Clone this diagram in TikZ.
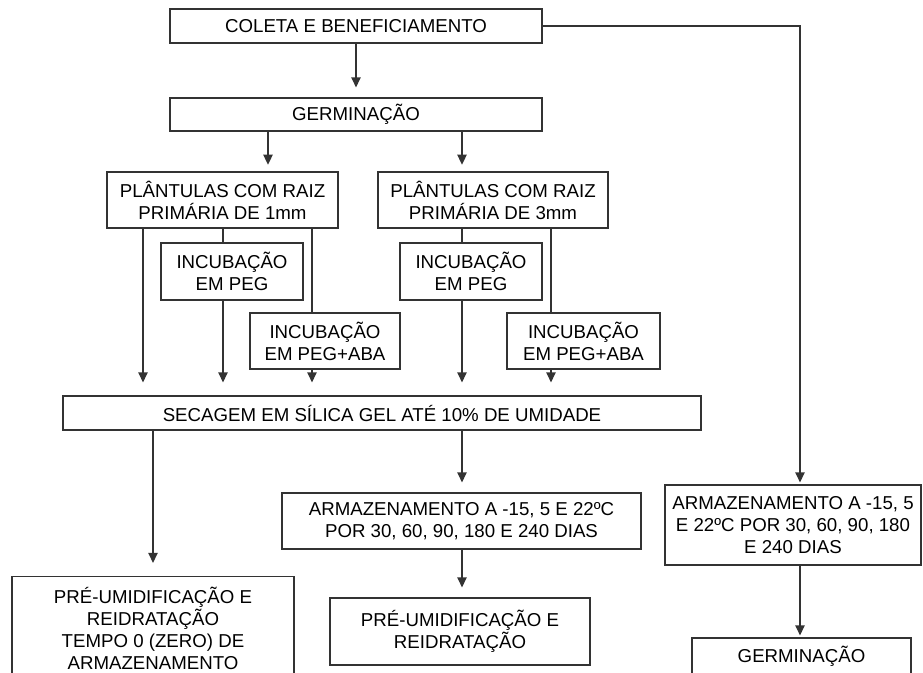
\documentclass[tikz,border=0pt]{standalone}
\usepackage{fontspec}
\setmainfont{Liberation Sans}
\usetikzlibrary{arrows.meta, positioning, calc}

\begin{document}
\begin{tikzpicture}[x=0.75pt, y=-0.75pt,
  caixa/.style={draw=black!80, line width=0.9pt, align=center, inner sep=0pt,
    font=\fontsize{14}{16.5}\selectfont},
  seta/.style={draw=black!80, line width=0.9pt, -{Triangle[length=7.5pt,width=7pt]}, shorten >=7.5pt},
  linha/.style={draw=black!80, line width=0.9pt}]

\useasboundingbox (0,0) rectangle (923,672);
\clip (0,0) rectangle (923,672);

% ---------------- Column positions ----------------
\foreach \nome/\xpos in {ca/143, cb/223, cc/312, cd/462, ce/551, cf/268, cg/153, ch/800}
  \coordinate (\nome) at (\xpos,26);

% ---------------- Top ----------------
\node[caixa, minimum width=279pt, minimum height=25.5pt] (coleta) at (356,26) {COLETA E BENEFICIAMENTO};
\node[caixa, minimum width=279pt, minimum height=24.75pt] (germ) at (356,114.5) {GERMINAÇÃO};

% ---------------- Seedlings ----------------
\node[caixa, minimum width=173.25pt, minimum height=42pt] (pl1) at (222.5,200) {PLÂNTULAS COM RAIZ\\PRIMÁRIA DE 1mm};
\node[caixa, minimum width=172.5pt, minimum height=42pt] (pl3) at (493,200) {PLÂNTULAS COM RAIZ\\PRIMÁRIA DE 3mm};
\node[caixa, minimum width=106.5pt, minimum height=42.75pt] (inc1) at (232,271.5) {INCUBAÇÃO\\EM PEG};
\node[caixa, minimum width=112.5pt, minimum height=42pt] (aba1) at (325,341) {INCUBAÇÃO\\EM PEG+ABA};
\node[caixa, minimum width=106.5pt, minimum height=42.75pt] (inc3) at (471,271.5) {INCUBAÇÃO\\EM PEG};
\node[caixa, minimum width=114.75pt, minimum height=42pt] (aba3) at (583.5,341) {INCUBAÇÃO\\EM PEG+ABA};

% ---------------- Drying and storage ----------------
\node[caixa, minimum width=478.5pt, minimum height=25.5pt] (secagem) at (382,413) {SECAGEM EM SÍLICA GEL ATÉ 10\% DE UMIDADE};
\node[caixa, minimum width=211.5pt, minimum height=77.25pt] (pre0) at (153,628) {PRÉ-UMIDIFICAÇÃO E\\REIDRATAÇÃO\\TEMPO 0 (ZERO) DE\\ARMAZENAMENTO};
\node[caixa, minimum width=269.25pt, minimum height=42pt] (armaz) at (461.5,521) {ARMAZENAMENTO A -15, 5 E 22ºC\\POR 30, 60, 90, 180 E 240 DIAS};
\node[caixa, minimum width=195pt, minimum height=50.25pt] (pre) at (460,631.5) {PRÉ-UMIDIFICAÇÃO E\\REIDRATAÇÃO};
\node[caixa, minimum width=192pt, minimum height=60pt] (armazD) at (793,525) {ARMAZENAMENTO A -15, 5\\E 22ºC POR 30, 60, 90, 180\\E 240 DIAS};
\node[caixa, minimum width=164.25pt, minimum height=27pt] (germD) at (801.5,656) {GERMINAÇÃO};

% ---------------- Connectors ----------------
\draw[seta] (coleta) -- (germ);
\draw[seta, shorten >=5pt] (germ.south -| cf) -- (pl1.north -| cf);
\draw[seta, shorten >=5pt] (germ.south -| cd) -- (pl3.north -| cd);
% left branch
\draw[linha] (pl1.south -| cb) -- (inc1.north -| cb);
\draw[linha] (pl1.south -| cc) -- (aba1.north -| cc);
\draw[seta, shorten >=9.75pt] (pl1.south -| ca) -- (secagem.north -| ca);
\draw[seta, shorten >=9.75pt] (inc1.south -| cb) -- (secagem.north -| cb);
\draw[seta, shorten >=9.75pt] (aba1.south -| cc) -- (secagem.north -| cc);
% right branch
\draw[linha] (pl3.south -| cd) -- (inc3.north -| cd);
\draw[linha] (pl3.south -| ce) -- (aba3.north -| ce);
\draw[seta, shorten >=9.75pt] (inc3.south -| cd) -- (secagem.north -| cd);
\draw[seta, shorten >=9.75pt] (aba3.south -| ce) -- (secagem.north -| ce);
% after drying
\draw[seta, shorten >=9.75pt] (secagem.south -| cg) -- (pre0.north -| cg);
\draw[seta] (secagem.south -| cd) -- (armaz.north -| cd);
\draw[seta] (armaz.south -| cd) -- (pre.north -| cd);
% control
\draw[seta, shorten >=1.5pt] (coleta.east) -- (ch) -- (ch |- armazD.north);
\draw[seta, shorten >=1.5pt] (armazD.south -| ch) -- (germD.north -| ch);
\end{tikzpicture}
\end{document}
